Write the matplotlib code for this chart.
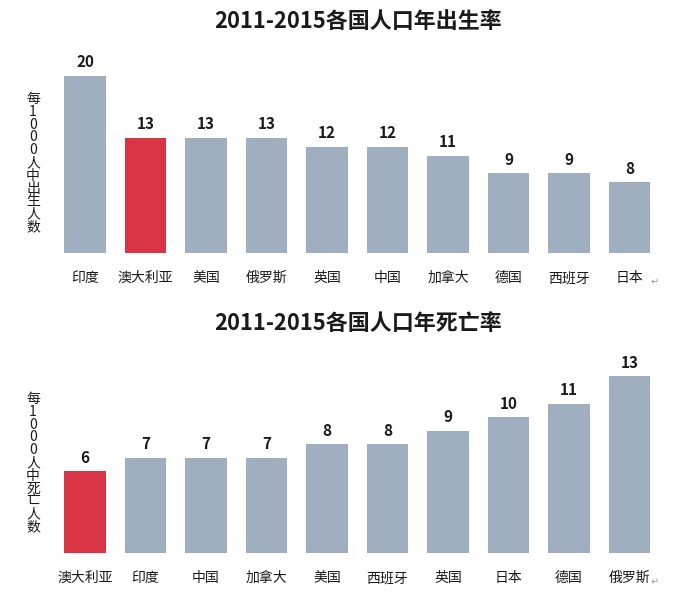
import numpy as np
import matplotlib
matplotlib.use("Agg")
import matplotlib.pyplot as plt

plt.rcParams["font.family"] = ["Noto Sans CJK SC", "DejaVu Sans"]

birth_countries = ["印度", "澳大利亚", "美国", "俄罗斯", "英国", "中国", "加拿大", "德国", "西班牙", "日本"]
birth_rates = [20, 13, 13, 13, 12, 12, 11, 9, 9, 8]
death_countries = ["澳大利亚", "印度", "中国", "加拿大", "美国", "西班牙", "英国", "日本", "德国", "俄罗斯"]
death_rates = [6, 7, 7, 7, 8, 8, 9, 10, 11, 13]
highlight = "澳大利亚"

GRAY = "#A0AFBF"
RED = "#D83445"
TXT = "#1a1a1a"

W, H = 696, 592
fig = plt.figure(figsize=(W / 100, H / 100), dpi=100)


def px_axes(left, bottom, width, height):
    return fig.add_axes([left / W, (H - bottom) / H, width / W, height / H])


def vertical_label(text, cy, step=12.8):
    # stacked characters, one per line, centred on cy (pixels from top)
    n = len(text)
    for i, ch in enumerate(text):
        y = cy + (i - (n - 1) / 2) * step
        fig.text(33 / W, 1 - y / H, ch, ha="center", va="center",
                 fontsize=10, color=TXT)


def panel(ax, cats, vals, ymax, title, ylab, title_y, ylab_y):
    x = np.arange(len(cats))
    colors = [RED if c == highlight else GRAY for c in cats]
    bars = ax.bar(x, vals, width=0.68, color=colors)
    for b, v in zip(bars, vals):
        ax.annotate(str(v), (b.get_x() + b.get_width() / 2, v), xytext=(0, 4),
                    textcoords="offset points", ha="center", va="bottom",
                    fontsize=11, fontweight="bold", color=TXT)
    ax.set_xlim(-0.5, len(cats) - 0.5)
    ax.set_ylim(0, ymax)
    ax.set_xticks(x)
    ax.set_xticklabels(cats, fontsize=10, color=TXT)
    ax.tick_params(axis="x", length=0, pad=13)
    ax.set_yticks([])
    for s in ax.spines.values():
        s.set_visible(False)
    ax.annotate("↵", (len(cats) - 1 + 0.42, 0), xytext=(0, -21), textcoords="offset points",
                fontsize=7, color="#999999", ha="center", va="center")
    fig.text(0.515, 1 - title_y / H, title, ha="center", va="center",
             fontsize=15.8, fontweight="bold", color=TXT)
    vertical_label(ylab, ylab_y)


ax1 = px_axes(54.75, 253, 605, 194.7)
panel(ax1, birth_countries, birth_rates, 22, "2011-2015各国人口年出生率",
      "每1000人中出生人数", 22, 163)

ax2 = px_axes(54.75, 553, 605, 197)
panel(ax2, death_countries, death_rates, 14.5, "2011-2015各国人口年死亡率",
      "每1000人中死亡人数", 323, 463)

fig.savefig("out.png", dpi=100)
